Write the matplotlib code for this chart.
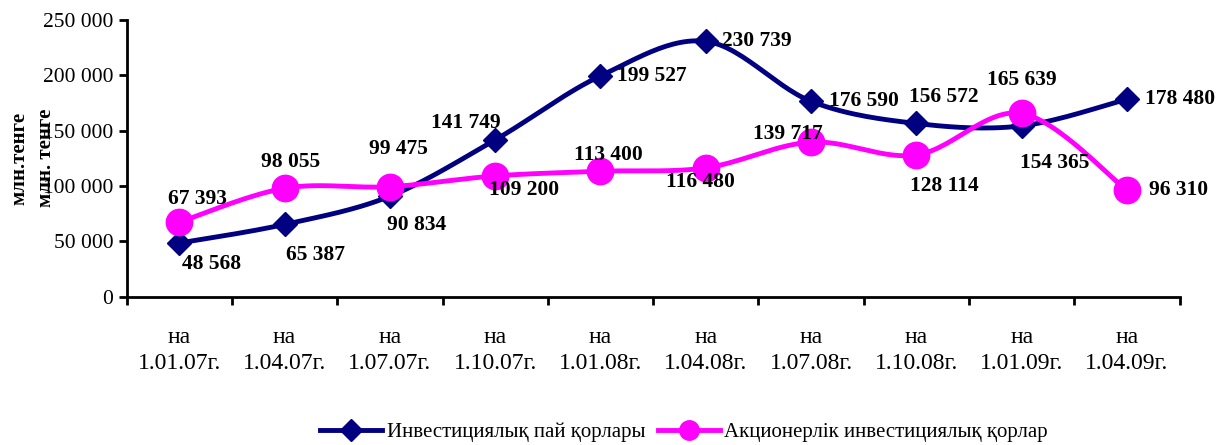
import numpy as np
import matplotlib
matplotlib.use("Agg")
import matplotlib.pyplot as plt
from matplotlib.ticker import FuncFormatter

plt.rcParams['font.family'] = ['Liberation Serif', 'DejaVu Serif']

# Data
categories = ["на\n1.01.07г.", "на\n1.04.07г.", "на\n1.07.07г.", "на\n1.10.07г.", "на\n1.01.08г.",
              "на\n1.04.08г.", "на\n1.07.08г.", "на\n1.10.08г.", "на\n1.01.09г.", "на\n1.04.09г."]
pai = [48568, 65387, 90834, 141749, 199527, 230739, 176590, 156572, 154365, 178480]
akc = [67393, 98055, 99475, 109200, 113400, 116480, 139717, 128114, 165639, 96310]
pai_name = "Инвестициялық пай қорлары"
akc_name = "Акционерлік инвестициялық қорлар"

# label offsets in points (dx, dy, ha)
pai_off = [(23, -15, "center"), (22, -22, "center"), (19, -21, "center"), (-21, 12, "center"),
           (12, 0, "left"), (12, 0, "left"), (13, 0, "left"), (20, 19, "center"),
           (24, -27, "center"), (13, 0, "left")]
akc_off = [(13, 17, "center"), (4, 19, "center"), (6, 27, "center"), (21, -10, "center"),
           (6, 12, "center"), (-4, -10, "center"), (-17, 6, "center"), (20, -22, "center"),
           (0, 24, "center"), (16, 0, "left")]


def smooth(x, y, n=30):
    # Catmull-Rom style bezier, similar to Excel smoothed lines
    x = np.asarray(x, float)
    y = np.asarray(y, float)
    px = np.concatenate([[x[0]], x, [x[-1]]])
    py = np.concatenate([[y[0]], y, [y[-1]]])
    xs, ys = [], []
    t = np.linspace(0, 1, n)
    for i in range(1, len(px) - 2):
        p0 = np.array([px[i], py[i]])
        p3 = np.array([px[i + 1], py[i + 1]])
        c1 = p0 + (p3 - np.array([px[i - 1], py[i - 1]])) / 6
        c2 = p3 - (np.array([px[i + 2], py[i + 2]]) - p0) / 6
        b = ((1 - t) ** 3)[:, None] * p0 + (3 * (1 - t) ** 2 * t)[:, None] * c1 \
            + (3 * (1 - t) * t ** 2)[:, None] * c2 + (t ** 3)[:, None] * p3
        xs.extend(b[:, 0])
        ys.extend(b[:, 1])
    return xs, ys


fig = plt.figure(figsize=(12.3, 4.45), dpi=100)
ax = fig.add_axes([0.103, 0.333, 0.856, 0.622])

x = np.arange(len(categories))
navy = "#000080"
pink = "#FF00FF"

sx, sy = smooth(x, pai)
ax.plot(sx, sy, color=navy, lw=3.5, zorder=2)
ax.plot(x, pai, ls="none", marker="D", ms=12.5, color=navy, zorder=3)
sx, sy = smooth(x, akc)
ax.plot(sx, sy, color=pink, lw=3.5, zorder=2)
ax.plot(x, akc, ls="none", marker="o", ms=19, color=pink, zorder=3)

for xi, v, o in zip(x, pai, pai_off):
    ax.annotate(f"{v:,}".replace(",", " "), (xi, v), xytext=o[:2], textcoords="offset points",
                ha=o[2], va="center", fontsize=15.5, fontweight="bold", zorder=4)
for xi, v, o in zip(x, akc, akc_off):
    ax.annotate(f"{v:,}".replace(",", " "), (xi, v), xytext=o[:2], textcoords="offset points",
                ha=o[2], va="center", fontsize=15.5, fontweight="bold", zorder=4)

ax.set_xlim(-0.5, len(categories) - 0.5)
ax.set_ylim(0, 250000)
ax.set_yticks(range(0, 250001, 50000))
ax.yaxis.set_major_formatter(FuncFormatter(lambda v, p: f"{int(v):,}".replace(",", " ")))
ax.set_xticks(x)
ax.set_xticklabels(categories, fontsize=17, linespacing=1.3)
ax.set_xticks(np.arange(-0.5, len(categories)), minor=True)
ax.tick_params(axis="x", which="major", length=0, pad=22)
ax.tick_params(axis="x", which="minor", length=6, width=2)
ax.tick_params(axis="y", labelsize=15.5, length=6, width=2)
for s in ["top", "right"]:
    ax.spines[s].set_visible(False)
for s in ["left", "bottom"]:
    ax.spines[s].set_linewidth(2)

fig.text(0.016, 0.645, "млн.тенге", rotation=90, ha="center", va="center", fontsize=15, fontweight="bold")
fig.text(0.037, 0.645, "млн. тенге", rotation=90, ha="center", va="center", fontsize=15, fontweight="bold")

h1, = ax.plot([], [], color=navy, lw=3.5, marker="D", ms=11)
h2, = ax.plot([], [], color=pink, lw=3.5, marker="o", ms=14)
fig.legend([h1, h2], [pai_name, akc_name], loc="center", bbox_to_anchor=(0.556, 0.028), ncol=2,
           frameon=False, fontsize=15, handlelength=3.0, handletextpad=0.2, columnspacing=0.6)

fig.savefig("out.png", dpi=100)
